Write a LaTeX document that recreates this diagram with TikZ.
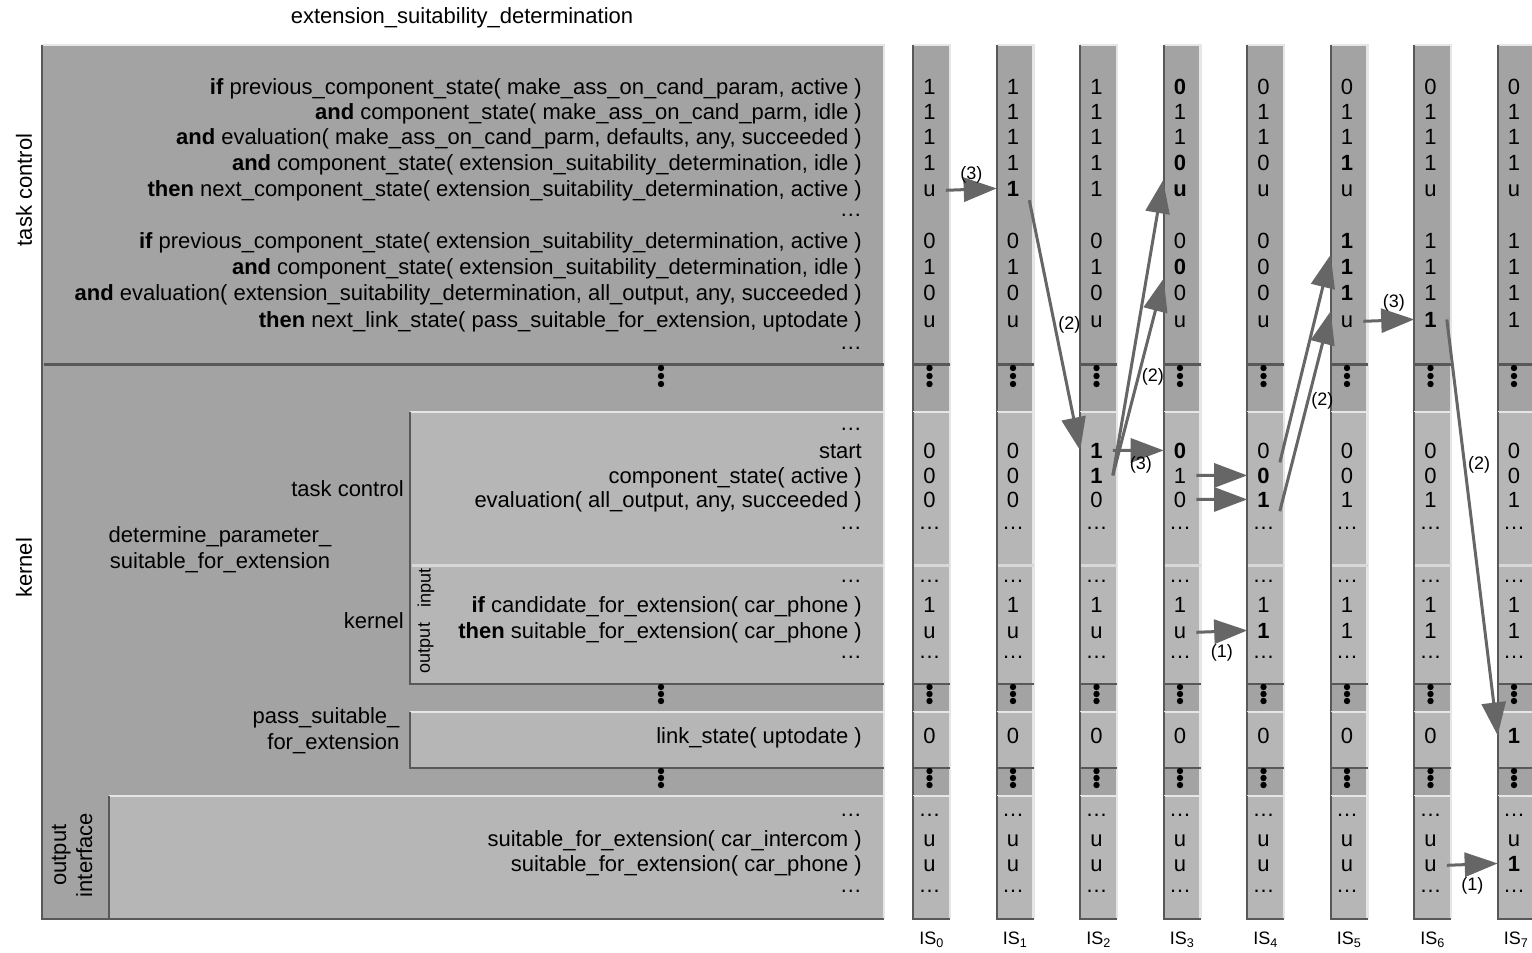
\documentclass[tikz,border=0pt]{standalone}
\usepackage{fontspec}
\setmainfont{Liberation Sans}
\usetikzlibrary{arrows.meta,positioning,calc}

\definecolor{paneldark}{HTML}{A3A3A3}
\definecolor{panellight}{HTML}{B6B6B6}
\definecolor{edgedark}{HTML}{585858}
\definecolor{edgelight}{HTML}{E6E6E6}
\definecolor{arrowgray}{HTML}{666666}

% raised box: light top/right, dark left/bottom
\newcommand{\bevelbox}[5]{%
  \fill[#1] (#2,#3) rectangle (#4,#5);
  \draw[hilite] (#2,#3) -- (#4,#3) -- (#4,#5);
  \draw[lowlite] (#2,#3) -- (#2,#5) -- (#4,#5);
}

\begin{document}
\begin{tikzpicture}[x=1pt,y=-1pt,
  font=\fontsize{22}{26}\selectfont,
  code/.style={anchor=base east,inner sep=0pt},
  val/.style={anchor=base,inner xsep=10pt,inner ysep=4pt},
  side/.style={rotate=90,inner sep=0pt},
  small/.style={font=\fontsize{18}{20}\selectfont},
  lbl/.style={font=\fontsize{18}{20}\selectfont,inner sep=2pt},
  trans/.style={draw=arrowgray,line width=3pt,-{Triangle[length=33pt,width=24pt]}},
  hilite/.style={draw=edgelight,line width=2.5pt},
  lowlite/.style={draw=edgedark,line width=2pt},
  sep/.style={draw=edgedark,line width=3pt},
  lightsep/.style={draw=edgelight!70!panellight,line width=3pt}]
\useasboundingbox (0,0) rectangle (1532,953);

% main panel
\bevelbox{paneldark}{42}{45}{884}{919}
\draw[sep] (44,364) -- (884,364);
\bevelbox{panellight}{410}{412}{884}{684}
\draw[lightsep] (412,565) -- (883,565);
\bevelbox{panellight}{410}{712}{884}{768}
\bevelbox{panellight}{109}{796}{884}{919}
\foreach \y in {368,376,384,687,694,701,771,778,785}
  \fill (661,\y) circle (3.2pt);

% state columns
\foreach \i in {0,...,7}{
  \pgfmathsetmacro\xa{913+83.5*\i}
  \pgfmathsetmacro\xb{\xa+37}
  \coordinate (col\i) at (\xa+16.5,0);
  \bevelbox{paneldark}{\xa}{45}{\xb}{919}
  \draw[sep] (\xa,364) -- (\xb,364);
  \bevelbox{panellight}{\xa}{412}{\xb}{684}
  \draw[lightsep] (\xa+1,565) -- (\xb,565);
  \bevelbox{panellight}{\xa}{712}{\xb}{768}
  \bevelbox{panellight}{\xa}{796}{\xb}{919}
  \foreach \y in {368,376,384,687,694,701,771,778,785}
    \fill (\xa+16.5,\y) circle (3.2pt);
  \node[small] (lab\i) at (\xa+18.5,940) {IS\textsubscript{\i}};
}

% titles
\node (title) at (462,18) {extension\_suitability\_determination};
\node[side] (tcside) at (24,190) {task control};
\node[side] (knside) at (24,568) {kernel};
\node[side,align=center] (oiside) at (72,855) {output\\interface};

% task control rules
\node[code] (tc1) at (862,94) {\textbf{if} previous\_component\_state( make\_ass\_on\_cand\_param, active )};
\node[code] (tc2) at (862,119) {\textbf{and} component\_state( make\_ass\_on\_cand\_parm, idle )};
\node[code] (tc3) at (862,144) {\textbf{and} evaluation( make\_ass\_on\_cand\_parm, defaults, any, succeeded )};
\node[code] (tc4) at (862,170) {\textbf{and} component\_state( extension\_suitability\_determination, idle )};
\node[code] (tc5) at (862,196) {\textbf{then} next\_component\_state( extension\_suitability\_determination, active )};
\node[code] (tcdA) at (862,216) {\dots};
\node[code] (tc6) at (862,248) {\textbf{if} previous\_component\_state( extension\_suitability\_determination, active )};
\node[code] (tc7) at (862,274) {\textbf{and} component\_state( extension\_suitability\_determination, idle )};
\node[code] (tc8) at (862,300) {\textbf{and} evaluation( extension\_suitability\_determination, all\_output, any, succeeded )};
\node[code] (tc9) at (862,327) {\textbf{then} next\_link\_state( pass\_suitable\_for\_extension, uptodate )};
\node[code] (tcdB) at (862,349) {\dots};

% kernel
\node[code] (ktclab) at (404,496) {task control};
\node[align=center] (dpname) at (220,550) {determine\_parameter\_\\suitable\_for\_extension};
\node[code] (kklab) at (404,628) {kernel};
\node[align=right,anchor=east] (psname) at (403,731) {pass\_suitable\_\\for\_extension};
\node[side,small] (inlab) at (426,588) {input};
\node[side,small] (outlab) at (426,648) {output};

\node[code] (ktc0) at (862,430) {\dots};
\node[code] (ktc1) at (862,458) {start};
\node[code] (ktc2) at (862,483) {component\_state( active )};
\node[code] (ktc3) at (862,507) {evaluation( all\_output, any, succeeded )};
\node[code] (ktc4) at (862,529) {\dots};
\node[code] (kk0) at (862,582) {\dots};
\node[code] (kk1) at (862,612) {\textbf{if} candidate\_for\_extension( car\_phone )};
\node[code] (kk2) at (862,638) {\textbf{then} suitable\_for\_extension( car\_phone )};
\node[code] (kk3) at (862,658) {\dots};
\node[code] (lk) at (862,743) {link\_state( uptodate )};

% output interface
\node[code] (oi0) at (862,816) {\dots};
\node[code] (oi1) at (862,846) {suitable\_for\_extension( car\_intercom )};
\node[code] (oi2) at (862,871) {suitable\_for\_extension( car\_phone )};
\node[code] (oi3) at (862,892) {\dots};

% values per information state
\foreach \i/\vt/\vk/\vr/\vl/\vo in {
  0/{1,1,1,1,u,0,1,0,u}/{0,0,0}/{1,u}/0/{u,u},
  1/{1,1,1,1,\textbf{1},0,1,0,u}/{0,0,0}/{1,u}/0/{u,u},
  2/{1,1,1,1,1,0,1,0,u}/{\textbf{1},\textbf{1},0}/{1,u}/0/{u,u},
  3/{\textbf{0},1,1,\textbf{0},\textbf{u},0,\textbf{0},0,u}/{\textbf{0},1,0}/{1,u}/0/{u,u},
  4/{0,1,1,0,u,0,0,0,u}/{0,\textbf{0},\textbf{1}}/{1,\textbf{1}}/0/{u,u},
  5/{0,1,1,\textbf{1},u,\textbf{1},\textbf{1},\textbf{1},u}/{0,0,1}/{1,1}/0/{u,u},
  6/{0,1,1,1,u,1,1,1,\textbf{1}}/{0,0,1}/{1,1}/0/{u,u},
  7/{0,1,1,1,u,1,1,1,1}/{0,0,1}/{1,1}/\textbf{1}/{u,\textbf{1}}}{
  \foreach \cv [count=\rr] in \vt
    \node[val] (is\i-t\rr) at (col\i |- tc\rr.base) {\cv};
  \foreach \cv [count=\rr] in \vk
    \node[val] (is\i-k\rr) at (col\i |- ktc\rr.base) {\cv};
  \foreach \cv [count=\rr] in \vr
    \node[val] (is\i-r\rr) at (col\i |- kk\rr.base) {\cv};
  \node[val] (is\i-l) at (col\i |- lk.base) {\vl};
  \foreach \cv [count=\rr] in \vo
    \node[val] (is\i-o\rr) at (col\i |- oi\rr.base) {\cv};
  \foreach \rw in {ktc4,kk0,kk3,oi0,oi3}
    \node[val] (is\i-\rw) at (col\i |- \rw.base) {\dots};
}

% transitions
\draw[trans] (is0-t5.east) -- node[lbl,above=3pt] (a1) {(3)} (is1-t5.west);
\draw[trans] (is1-t5.south east) -- node[lbl,right] (a2) {(2)} (is2-k1.west);
\draw[trans] (is2-k2.east) -- (is3-t5.north west);
\draw[trans] (is2-k2.east) -- node[lbl,right] (a3) {(2)} (is3-t7.south west);
\draw[trans] (is2-k1.east) -- node[lbl,below=3pt,pos=0.55] (a4) {(3)} (is3-k1.west);
\draw[trans] (is3-k2.east) -- (is4-k2.west);
\draw[trans] (is3-k3.east) -- (is4-k3.west);
\draw[trans] (is3-r2.east) -- node[lbl,below=10pt] (a5) {(1)} (is4-r2.west);
\draw[trans] (is4-k1.south east) -- (is5-t7.north west);
\draw[trans] (is4-k3.south east) -- node[lbl,right,pos=0.55] (a6) {(2)} (is5-t9.north west);
\draw[trans] (is5-t9.east) -- node[lbl,above=5pt,pos=0.6] (a7) {(3)} (is6-t9.west);
\draw[trans] (is6-t9.east) -- node[lbl,right,pos=0.35] (a8) {(2)} (is7-l.west);
\draw[trans] (is6-o2.east) -- node[lbl,below=10pt] (a9) {(1)} (is7-o2.west);
\end{tikzpicture}
\end{document}
